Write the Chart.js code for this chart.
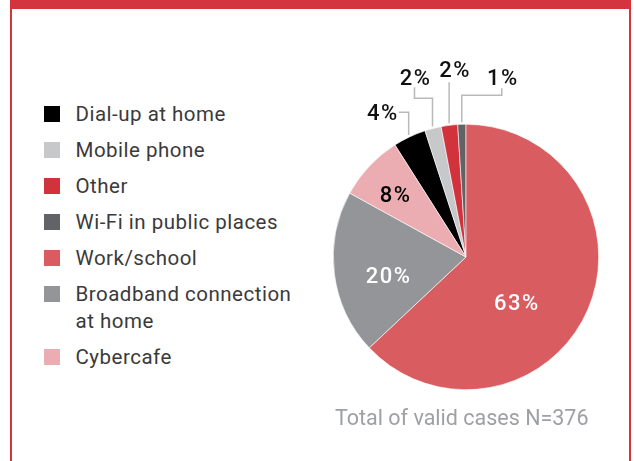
<!DOCTYPE html>
<html>
<head>
<meta charset="utf-8">
<script src="https://cdn.jsdelivr.net/npm/chart.js@4.4.0/dist/chart.umd.min.js"></script>
<style>
  html, body { margin: 0; padding: 0; background: #fff; }
  body { width: 634px; height: 461px; position: relative; overflow: hidden; font-family: Roboto, "Noto Sans", sans-serif; }
  .frame { position: absolute; left: 10px; top: 0; width: 617px; height: 480px;
    border-top: 9px solid #d3343e; border-left: 2.5px solid #d3343e; border-right: 2.5px solid #d3343e; }
  #legend { position: absolute; left: 44px; top: 100.5px; margin: 0; padding: 0; list-style: none; }
  #legend li { display: flex; align-items: flex-start; margin-bottom: 9px; font-size: 20.5px; line-height: 27px;
    color: #3a3a3a; letter-spacing: 0.5px; }
  #legend .box { width: 16px; height: 16px; margin-top: 5.5px; margin-right: 15.5px; flex: none; }
  #legend .txt { max-width: 232px; }
  .chart-wrap { position: absolute; left: 300px; top: 40px; width: 332px; height: 380px; }
  .note { position: absolute; left: 335px; top: 406px; font-size: 21.5px; line-height: 24px; color: #9fa0a3; }
</style>
</head>
<body>
<div class="frame"></div>
<ul id="legend"></ul>
<div class="chart-wrap"><canvas id="pie"></canvas></div>
<div class="note">Total of valid cases N=376</div>
<script>
const categories = ['Dial-up at home', 'Mobile phone', 'Other', 'Wi-Fi in public places',
  'Work/school', 'Broadband connection at home', 'Cybercafe'];
const shares = [4, 2, 2, 1, 63, 20, 8];
const sliceColors = ['#000000', '#c7c8ca', '#d2323c', '#626366', '#d95c61', '#939598', '#ebadb1'];

// where each percentage goes: leader steps for the small slices, radial spot for the big ones
const labelLayout = [
  { steps: [{ v: -12 }, { h: -10 }], dx: 0, dy: 0, align: 'right' },
  { steps: [{ v: -26 }, { h: -18 }, { v: -37 }], dx: 1, dy: -10, align: 'center' },
  { steps: [{ v: -42 }], dx: 6, dy: -13, align: 'center' },
  { steps: [{ v: -29 }, { h: 40 }, { v: -36 }], dx: 1, dy: -11, align: 'center' },
  { rf: 0.51, da: 18, color: '#ffffff' },
  { rf: 0.6, da: -6, color: '#ffffff' },
  { rf: 0.71, da: -1.6, color: '#000000' }
];

const sliceLabels = {
  id: 'sliceLabels',
  afterDatasetsDraw(chart) {
    const ctx = chart.ctx;
    const meta = chart.getDatasetMeta(0);
    const values = chart.data.datasets[0].data;
    ctx.save();
    ctx.font = '500 22px Roboto';
    ctx.letterSpacing = '1.5px';
    meta.data.forEach((arc, i) => {
      const p = arc.getProps(['x', 'y', 'startAngle', 'endAngle', 'outerRadius'], true);
      const mid = (p.startAngle + p.endAngle) / 2;
      const cfg = labelLayout[i];
      const text = values[i] + '%';
      if (cfg.steps) {
        const top = p.y - p.outerRadius;
        let x = p.x + Math.cos(mid) * (p.outerRadius + 2);
        let y = p.y + Math.sin(mid) * (p.outerRadius + 2);
        ctx.beginPath();
        ctx.moveTo(x, y);
        cfg.steps.forEach(s => {
          if (s.v !== undefined) y = top + s.v; else x += s.h;
          ctx.lineTo(x, y);
        });
        ctx.strokeStyle = '#b9b9bb';
        ctx.lineWidth = 1.5;
        ctx.stroke();
        ctx.fillStyle = '#111111';
        ctx.textAlign = cfg.align;
        ctx.textBaseline = 'alphabetic';
        ctx.fillText(text, x + cfg.dx, y + cfg.dy + 7.8);
      } else {
        const a = mid + cfg.da * Math.PI / 180;
        const r = p.outerRadius * cfg.rf;
        ctx.fillStyle = cfg.color;
        ctx.textAlign = 'center';
        ctx.textBaseline = 'alphabetic';
        ctx.fillText(text, p.x + Math.cos(a) * r, p.y + Math.sin(a) * r + 7.8);
      }
    });
    ctx.restore();
  }
};

const chart = new Chart(document.getElementById('pie'), {
  type: 'pie',
  data: {
    labels: categories,
    datasets: [{
      data: shares,
      backgroundColor: sliceColors,
      borderColor: '#ffffff',
      borderWidth: 0.6
    }]
  },
  options: {
    responsive: true,
    maintainAspectRatio: false,
    animation: false,
    rotation: -32.4,
    layout: { padding: { left: 33, right: 33, top: 84, bottom: 30 } },
    plugins: {
      legend: { display: false },
      tooltip: { enabled: false }
    }
  },
  plugins: [sliceLabels]
});

// html legend from the chart's own legend items, so long names can wrap
const list = document.getElementById('legend');
chart.options.plugins.legend.labels.generateLabels(chart).forEach(item => {
  const li = document.createElement('li');
  const box = document.createElement('span');
  box.className = 'box';
  box.style.background = item.fillStyle;
  const txt = document.createElement('span');
  txt.className = 'txt';
  txt.textContent = item.text;
  li.appendChild(box);
  li.appendChild(txt);
  list.appendChild(li);
});
</script>
</body>
</html>
